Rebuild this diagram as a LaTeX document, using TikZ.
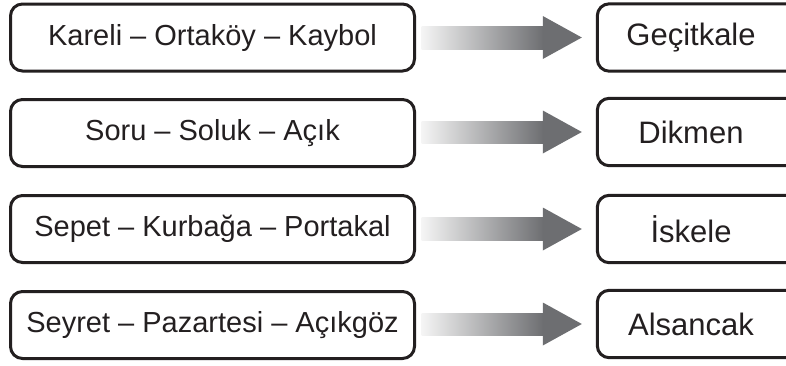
\documentclass[tikz,border=0pt]{standalone}
\usepackage{fontspec}
\setmainfont{Liberation Sans}
\usetikzlibrary{calc}
\definecolor{ink}{HTML}{231F20}
\definecolor{arrowgray}{HTML}{6D6E71}
\tikzset{
  lbox/.style={draw=ink, line width=3pt, rounded corners=12pt, minimum width=404pt,
    minimum height=67pt, inner sep=0pt, text=ink, font=\fontsize{29}{32}\selectfont},
  rtext/.style={minimum width=187pt, minimum height=67pt, inner sep=0pt, text=ink,
    font=\fontsize{31}{34}\selectfont},
  rframe/.style={draw=ink, line width=3pt, rounded corners=12pt},
}
\newcommand{\fatarrow}[2]{%
  \coordinate (s) at ($(#1.east)+(5.5pt,0)$);
  \coordinate (t) at ($(#2.west)+(-15.5pt,0)$);
  \shade[left color=black!4, right color=arrowgray]
    ([yshift=11.5pt]s) rectangle ([xshift=-38pt,yshift=-11.5pt]t);
  \fill[arrowgray] ([xshift=-39pt,yshift=21.5pt]t) -- (t) -- ([xshift=-39pt,yshift=-21.5pt]t) -- cycle;
}
\begin{document}
\begin{tikzpicture}[x=1pt,y=-1pt]
\clip (0,0) rectangle (786,365);
\useasboundingbox (0,0) rectangle (786,365);
\fill[white] (0,0) rectangle (786,365);

\node[lbox] (L1) at (212.5,37.5) {Kareli – Ortaköy – Kaybol};
\node[lbox] (L2) at (212.5,133) {Soru – Soluk – Açık};
\node[lbox] (L3) at (212.5,229) {Sepet – Kurbağa – Portakal};
\node[lbox] (L4) at (212.5,325) {Seyret – Pazartesi – Açıkgöz};

\node[rtext] (R1) at (691,37.5) {Geçitkale};
\node[rtext] (R2) at (691,132) {Dikmen};
\node[rtext] (R3) at (691,229) {İskele};
\node[rtext] (R4) at (691,324) {Alsancak};

\foreach \r in {R1,R2,R3,R4}{
  \draw[rframe] ([xshift=30pt]\r.north east) -- (\r.north west) -- (\r.south west) -- ([xshift=30pt]\r.south east);
}

\fatarrow{L1}{R1}
\fatarrow{L2}{R2}
\fatarrow{L3}{R3}
\fatarrow{L4}{R4}
\end{tikzpicture}
\end{document}
